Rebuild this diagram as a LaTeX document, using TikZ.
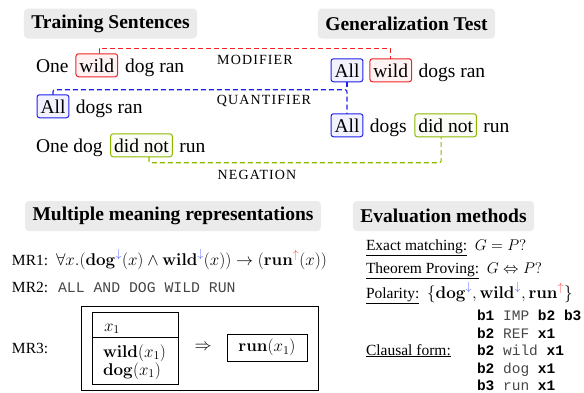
\RequirePackage{fix-cm}
\documentclass[tikz,border=0pt]{standalone}
\usepackage[no-math]{fontspec}
\setmainfont{Liberation Serif}
\setmonofont{Liberation Mono}
\newfontfamily\capfont[LetterSpace=8]{Liberation Serif}
\definecolor{tgray}{RGB}{235,235,235}
\definecolor{myred}{RGB}{240,35,35}
\definecolor{myblue}{RGB}{30,30,235}
\definecolor{mygreen}{RGB}{140,185,0}
\definecolor{arrb}{RGB}{80,100,255}
\definecolor{arrr}{RGB}{255,80,80}
\definecolor{monogray}{RGB}{70,70,70}
\newcommand\sentfont{\fontsize{19.5}{22}\selectfont}
\newcommand\smallfont{\fontsize{15.5}{18}\selectfont}
\newcommand\mfs{\fontsize{17}{20}\selectfont}
\begin{document}
\begin{tikzpicture}[x=1pt,y=-1pt,
  titlebox/.style={fill=tgray, rounded corners=4pt, font=\fontsize{19.5}{22}\selectfont\bfseries, inner xsep=7.5pt, inner ysep=0pt, minimum height=30pt},
  word/.style={inner sep=0pt, outer sep=0pt, anchor=base west, font=\sentfont},
  hl/.style={word, draw, rounded corners=2.5pt, line width=1pt, inner xsep=3.5pt, inner ysep=2.75pt, text height=15.5pt, text depth=2pt},
  hlred/.style={hl, draw=myred, fill=myred!6},
  hlblue/.style={hl, draw=myblue, fill=myblue!6},
  hlgreen/.style={hl, draw=mygreen, fill=mygreen!4},
  link/.style={dash pattern=on 5pt off 3pt, line width=1.1pt},
  lab/.style={inner sep=0pt, font=\capfont\fontsize{14}{16}\selectfont},
  small/.style={inner sep=0pt, outer sep=0pt, anchor=base west, font=\smallfont},
  mathtxt/.style={small, font=\mfs},
  mono/.style={small, font=\fontsize{14.5}{17}\selectfont\ttfamily},
  frame/.style={draw, line width=0.9pt, inner sep=0pt}
]
\useasboundingbox (0,0) rectangle (584,392);

% titles
\node[titlebox] (t1) at (110.5,23.5) {Training Sentences};
\node[titlebox] (t2) at (406.5,23.5) {Generalization Test};
\node[titlebox] (t3) at (173,216) {Multiple meaning representations};
\node[titlebox] (t4) at (443.5,216) {Evaluation methods};

% training sentences
\node[word] (r1a) at (36,72) {One};
\node[hlred] (wild1) at ([xshift=7.5pt]r1a.base east) {wild};
\node[word] (r1b) at ([xshift=7.5pt]wild1.base east) {dog ran};

\node[hlblue] (all1) at (37,113) {All};
\node[word] (r2a) at ([xshift=7pt]all1.base east) {dogs ran};

\node[word] (r3a) at (36,152) {One dog};
\node[hlgreen] (dn1) at ([xshift=8pt]r3a.base east) {did not};
\node[word] (r3b) at ([xshift=7pt]dn1.base east) {run};

% generalization test
\node[hlblue] (allr1) at (331,77) {All};
\node[hlred] (wild2) at ([xshift=7pt]allr1.base east) {wild};
\node[word] (g1b) at ([xshift=7pt]wild2.base east) {dogs ran};

\node[hlblue] (allr2) at (331,132) {All};
\node[word] (g2a) at ([xshift=7pt]allr2.base east) {dogs};
\node[hlgreen] (dn2) at ([xshift=8pt]g2a.base east) {did not};
\node[word] (g2b) at ([xshift=7pt]dn2.base east) {run};

% connectors
\draw[link, myred] ([xshift=2.5pt]wild1.north) -- ++(0,-5) -| (wild2.north);
\draw[link, myblue, rounded corners=2pt] (all1.north) -- ++(0,-5) coordinate (bq) -| (allr2.north);
\draw[link, myblue] (allr1.south) -- (allr1.south |- bq);
\draw[link, mygreen, rounded corners=2pt] ([xshift=7.5pt]dn1.south) -- ++(0,6) -| ([xshift=-4.5pt]dn2.south);

\node[lab] (lmod) at (255,60) {MODIFIER};
\node[lab] (lqua) at (264,101) {QUANTIFIER};
\node[lab] (lneg) at (257,175) {NEGATION};

% meaning representations
\node[small] (mr1) at (12,265) {MR1:};
\node[mathtxt] (mr1f) at (56,265) {$\forall x.(\mathbf{dog}^{\textcolor{arrb}{\downarrow}}(x)\wedge\mathbf{wild}^{\textcolor{arrb}{\downarrow}}(x))\rightarrow(\mathbf{run}^{\textcolor{arrr}{\uparrow}}(x))$};
\node[small] (mr2) at (12,292) {MR2:};
\node[small, font=\fontsize{14.8}{17}\selectfont\ttfamily, text=monogray] (mr2f) at (58,292) {ALL AND DOG WILD RUN};
\node[small] (mr3) at (12,353) {MR3:};

\node[frame, anchor=north west, minimum width=237pt, minimum height=84pt] (mr3box) at (81,306) {};
\node[frame, anchor=north west, minimum width=86pt, minimum height=72pt] (drs) at (92,312) {};
\draw[line width=0.9pt] (drs.west |- 0,337) -- (drs.east |- 0,337);
\node[mathtxt] (dx) at (104,331) {$x_1$};
\node[mathtxt] (dwild) at (103,357) {$\mathbf{wild}(x_1)$};
\node[mathtxt] (ddog) at (103,375) {$\mathbf{dog}(x_1)$};
\node[mathtxt, anchor=center] (impl) at (203,347) {$\Rightarrow$};
\node[frame, minimum width=80pt, minimum height=27pt, font=\mfs] (runbox) at (267,347.5) {$\mathbf{run}(x_1)$};

% evaluation methods
\node[small] (em) at (366,250) {\underline{Exact matching:}\ \ $G=P?$};
\node[small] (tp) at (366,273) {\underline{Theorem Proving:}\ \ $G\Leftrightarrow P?$};
\node[small] (pol) at (366,298) {\underline{Polarity:}\ \ {\mfs$\{\mathbf{dog}^{\textcolor{arrb}{\downarrow}},\mathbf{wild}^{\textcolor{arrb}{\downarrow}},\mathbf{run}^{\textcolor{arrr}{\uparrow}}\}$}};
\node[small] (cf) at (366,355) {\underline{Clausal form:}};
\node[mono, text=monogray] (c1) at (477,320) {\textcolor{black}{\textbf{b1}} IMP \textcolor{black}{\textbf{b2 b3}}};
\node[mono, text=monogray] (c2) at (477,338) {\textcolor{black}{\textbf{b2}} REF \textcolor{black}{\textbf{x1}}};
\node[mono, text=monogray] (c3) at (477,355) {\textcolor{black}{\textbf{b2}} wild \textcolor{black}{\textbf{x1}}};
\node[mono, text=monogray] (c4) at (477,373) {\textcolor{black}{\textbf{b2}} dog \textcolor{black}{\textbf{x1}}};
\node[mono, text=monogray] (c5) at (477,390) {\textcolor{black}{\textbf{b3}} run \textcolor{black}{\textbf{x1}}};
\end{tikzpicture}
\end{document}
